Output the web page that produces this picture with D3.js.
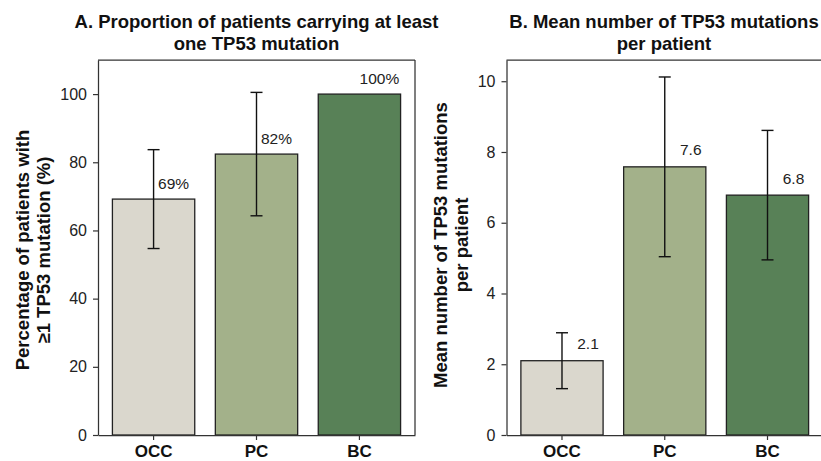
<html>
<head>
<meta charset="utf-8">
<title>TP53 mutations</title>
<style>
  body { margin: 0; background: #fff; }
  svg { font-family: "Liberation Sans", Arial, sans-serif; }
</style>
<script src="https://d3js.org/d3.v7.min.js"></script>
</head>
<body>
<script>
var groups = ["OCC", "PC", "BC"];
var colors = ["#dad7cd", "#a3b18a", "#588157"];

// panel A
var pctValues = [69.2, 82.4, 100];
var pctErrors = [14.5, 18.1, 0];
var pctLabels = ["69%", "82%", "100%"];
var pctTicks = [0, 20, 40, 60, 80, 100];

// panel B
var meanValues = [2.1, 7.58, 6.78];
var meanErrors = [0.79, 2.54, 1.83];
var meanLabels = ["2.1", "7.6", "6.8"];
var meanTicks = [0, 2, 4, 6, 8, 10];

var svg = d3.select("body").append("svg")
  .attr("width", 821).attr("height", 461);

function panel(opt) {
  var x = d3.scaleBand().domain(groups)
    .range([opt.left, opt.right])
    .paddingInner(0.2).paddingOuter(0.14);
  var y = d3.scaleLinear().domain([0, opt.ymax]).range([435, 60]);

  var g = svg.append("g");

  // bars
  g.selectAll("rect.bar")
    .data(groups)
    .enter().append("rect")
    .attr("class", "bar")
    .attr("x", d => x(d))
    .attr("width", x.bandwidth())
    .attr("y", (d, i) => y(opt.values[i]))
    .attr("height", (d, i) => y(0) - y(opt.values[i]))
    .attr("fill", (d, i) => colors[i])
    .attr("stroke", "#222")
    .attr("stroke-width", 1.3);

  // error bars
  var eb = g.selectAll("g.err")
    .data(groups.filter((d, i) => opt.errors[i] > 0))
    .enter().append("g").attr("class", "err");
  eb.each(function(d) {
    var i = groups.indexOf(d);
    var cx = x(d) + x.bandwidth() / 2;
    var lo = y(opt.values[i] - opt.errors[i]), hi = y(opt.values[i] + opt.errors[i]);
    var s = d3.select(this);
    s.append("line").attr("x1", cx).attr("x2", cx).attr("y1", lo).attr("y2", hi);
    s.append("line").attr("x1", cx - 6).attr("x2", cx + 6).attr("y1", lo).attr("y2", lo);
    s.append("line").attr("x1", cx - 6).attr("x2", cx + 6).attr("y1", hi).attr("y2", hi);
  });
  eb.selectAll("line").attr("stroke", "#111").attr("stroke-width", 1.4);

  // value labels
  g.selectAll("text.val")
    .data(groups)
    .enter().append("text")
    .attr("class", "val")
    .attr("x", d => x(d) + x.bandwidth() / 2 + opt.labelDx)
    .attr("y", (d, i) => y(opt.values[i] + opt.labelDy))
    .attr("dy", "0.35em")
    .attr("text-anchor", "middle")
    .style("font-size", "15.5px")
    .attr("fill", "#222")
    .text((d, i) => opt.labels[i]);

  // frame
  var fr = g.append("g").attr("stroke", "#333").attr("stroke-width", 1.25);
  fr.append("line").attr("x1", opt.left).attr("x2", opt.right).attr("y1", 60).attr("y2", 60);
  fr.append("line").attr("x1", opt.right).attr("x2", opt.right).attr("y1", 60).attr("y2", 435);

  // axes
  var ya = g.append("g").attr("transform", "translate(" + opt.left + ",0)")
    .call(d3.axisLeft(y).tickValues(opt.ticks).tickSize(5).tickPadding(6).tickSizeOuter(0));
  ya.select(".domain").attr("stroke", "#333").attr("stroke-width", 1.25);
  ya.selectAll(".tick line").attr("stroke", "#333").attr("stroke-width", 1.2);
  ya.selectAll(".tick text").style("font-size", "16px").style("font-family", "Liberation Sans, Arial, sans-serif").attr("fill", "#222");

  var xa = g.append("g").attr("transform", "translate(0,435)")
    .call(d3.axisBottom(x).tickSize(5).tickPadding(4.5).tickSizeOuter(0));
  xa.select(".domain").attr("stroke", "#333").attr("stroke-width", 1.25);
  xa.selectAll(".tick line").attr("stroke", "#333").attr("stroke-width", 1.2);
  xa.selectAll(".tick text").style("font-size", "17px").style("font-weight", "bold")
    .style("font-family", "Liberation Sans, Arial, sans-serif").attr("fill", "#111");

  // title
  var cx = (opt.left + opt.right) / 2;
  var t = g.append("text").attr("text-anchor", "middle")
    .style("font-size", "18.5px").style("font-weight", "bold").attr("fill", "#111");
  opt.title.forEach((line, k) => {
    t.append("tspan").attr("x", opt.titleX || cx).attr("y", 28 + k * 22).text(line);
  });

  // y label
  var yl = g.append("text").attr("text-anchor", "middle")
    .attr("transform", "translate(" + opt.ylabelX + "," + opt.ylabelY + ") rotate(-90)")
    .style("font-size", "18.5px").style("font-weight", "bold").attr("fill", "#111");
  opt.ylabel.forEach((line, k) => {
    yl.append("tspan").attr("x", 0).attr("y", k * 21).text(line);
  });
}

panel({
  left: 98, right: 415, ymax: 110,
  values: pctValues, errors: pctErrors, labels: pctLabels, ticks: pctTicks,
  labelDx: 20, labelDy: 4.6,
  title: ["A. Proportion of patients carrying at least", "one TP53 mutation"],
  ylabel: ["Percentage of patients with", "\u22651 TP53 mutation (%)"],
  ylabelX: 28.5, ylabelY: 250
});

panel({
  left: 506.5, right: 823, ymax: 10.6,
  values: meanValues, errors: meanErrors, labels: meanLabels, ticks: meanTicks,
  labelDx: 26, labelDy: 0.48,
  title: ["B. Mean number of TP53 mutations", "per patient"],
  titleX: 664,
  ylabel: ["Mean number of TP53 mutations", "per patient"],
  ylabelX: 446.5, ylabelY: 245
});
</script>
</body>
</html>
